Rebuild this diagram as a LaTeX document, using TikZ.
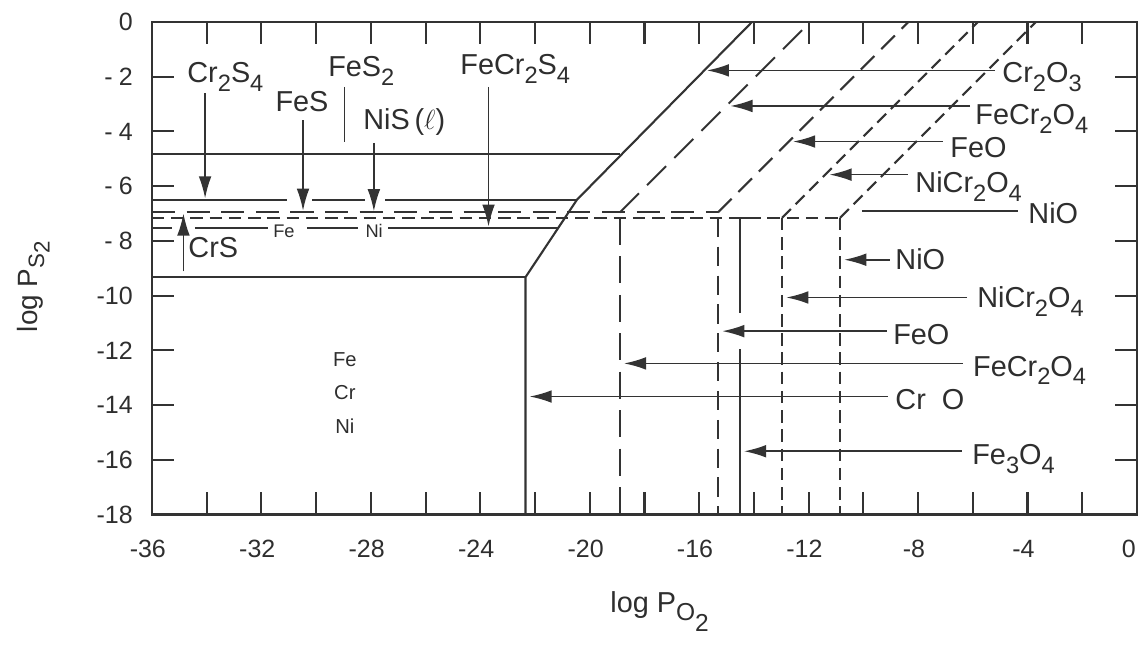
\documentclass[tikz,border=0pt]{standalone}
\usepackage{fontspec}
\setmainfont{Liberation Sans}
\usepackage{graphicx}
\usetikzlibrary{arrows.meta}
\newcommand{\chsub}[1]{\raisebox{-0.3em}{\scalebox{0.82}{#1}}}
\begin{document}
\begin{tikzpicture}[x=0.5cm,y=0.5cm,
  ink/.style={draw=black!80},
  frame/.style={ink, line width=1.5pt},
  bd/.style={ink, line width=1.1pt},
  arr/.style={ink, line width=0.85pt, -{Latex[length=11.5pt,width=6.6pt]}},
  bar/.style={ink, line width=0.85pt},
  ldash/.style={bd, dash pattern=on 14pt off 6pt},
  hdash/.style={bd, dash pattern=on 12pt off 6pt},
  mdash/.style={bd, dash pattern=on 10pt off 5pt},
  sdash/.style={bd, dash pattern=on 6.5pt off 3.5pt},
  lab/.style={inner sep=0pt, anchor=base west, text=black!82, font=\fontsize{15pt}{18pt}\selectfont},
  ticklab/.style={inner sep=0pt, text=black!82, font=\fontsize{13pt}{15pt}\selectfont},
  smalllab/.style={inner sep=0pt, text=black!82, font=\fontsize{10.5pt}{12pt}\selectfont},
  tinylab/.style={inner sep=0pt, anchor=base west, text=black!82, font=\fontsize{9.5pt}{11pt}\selectfont},
]
\useasboundingbox (-41.556,-22.81) rectangle (0.33,0.803);

% frame and ticks
\draw[frame] (-36,-18) rectangle (0,0);
\foreach \x in {-34,-32,...,-2} {
  \draw[bd] (\x,0) -- (\x,-0.82);
  \draw[bd] (\x,-18) -- (\x,-17.18);
}
\foreach \y in {-2,-4,...,-16} {
  \draw[bd] (-36,\y) -- (-35.18,\y);
  \draw[bd] (0,\y) -- (-0.82,\y);
}

% y tick labels
\node[ticklab, anchor=east] (y0) at (-36.69,0) {0};
\node[ticklab, anchor=east] (y2) at (-36.69,-2) {-\hspace{0.25em}2};
\node[ticklab, anchor=east] (y4) at (-36.69,-4) {-\hspace{0.25em}4};
\node[ticklab, anchor=east] (y6) at (-36.69,-6) {-\hspace{0.25em}6};
\node[ticklab, anchor=east] (y8) at (-36.69,-8) {-\hspace{0.25em}8};
\node[ticklab, anchor=east] (y10) at (-36.69,-10) {-10};
\node[ticklab, anchor=east] (y12) at (-36.69,-12) {-12};
\node[ticklab, anchor=east] (y14) at (-36.69,-14) {-14};
\node[ticklab, anchor=east] (y16) at (-36.69,-16) {-16};
\node[ticklab, anchor=east] (y18) at (-36.69,-18) {-18};

% x tick labels
\node[ticklab] (x36) at (-36,-19.27) {\llap{-}36};
\node[ticklab] (x32) at (-32,-19.27) {\llap{-}32};
\node[ticklab] (x28) at (-28,-19.27) {\llap{-}28};
\node[ticklab] (x24) at (-24,-19.27) {\llap{-}24};
\node[ticklab] (x20) at (-20,-19.27) {\llap{-}20};
\node[ticklab] (x16) at (-16,-19.27) {\llap{-}16};
\node[ticklab] (x12) at (-12,-19.27) {\llap{-}12};
\node[ticklab] (x8) at (-8,-19.27) {\llap{-}8};
\node[ticklab] (x4) at (-4,-19.27) {\llap{-}4};
\node[ticklab] (x0) at (-0.3,-19.27) {0};

% axis titles
\node[lab] (xtitle) at (-19.26,-21.57) {log P\raisebox{-0.3em}{\scalebox{0.85}{O\raisebox{-0.45em}{2}}}};
\node[lab, rotate=90, font=\fontsize{14.5pt}{17pt}\selectfont] (ytitle) at (-40.2,-11.35) {log P\raisebox{-0.25em}{\scalebox{0.8}{S\raisebox{-0.25em}{2}}}};

% solid boundaries
\draw[bd] (-14.07,0) -- (-20.47,-6.5) -- (-22.35,-9.33) -- (-22.35,-18);
\draw[bd] (-36,-4.82) -- (-18.89,-4.82);
\draw[bd] (-36,-6.5) -- (-31.07,-6.5) (-30.15,-6.5) -- (-28.22,-6.5) (-27.48,-6.5) -- (-20.47,-6.5);
\draw[bd] (-36,-9.33) -- (-22.35,-9.33);
\draw[bd] (-36,-7.52) -- (-35.27,-7.52) (-34.43,-7.52) -- (-31.76,-7.52)
          (-30.33,-7.52) -- (-28.47,-7.52) (-27.37,-7.52) -- (-21.14,-7.52);
\draw[bd] (-14.1,-7.16) -- (-14.51,-7.16) -- (-14.51,-10.62);
\draw[bd] (-14.51,-11.97) -- (-14.51,-18);

% dashed boundaries
\draw[hdash] (-36,-6.96) -- (-15.31,-6.96);
\draw[sdash] (-36,-7.16) -- (-10.85,-7.16);
\draw[ldash] (-18.9,-6.96) -- (-11.94,0);
\draw[ldash] (-18.9,-7.16) -- (-18.9,-18);
\draw[mdash] (-15.31,-6.96) -- (-8.35,0);
\draw[mdash] (-15.31,-7.16) -- (-15.31,-18);
\draw[sdash] (-12.97,-7.16) -- (-5.81,0);
\draw[sdash] (-12.97,-7.16) -- (-12.97,-18);
\draw[sdash] (-10.85,-7.16) -- (-3.69,0);
\draw[sdash] (-10.85,-7.16) -- (-10.85,-18);

% sulfide labels and arrows
\node[lab] (crs4) at (-34.72,-2.23) {Cr\chsub{2}S\chsub{4}};
\node[lab] (fes) at (-31.5,-3.28) {FeS};
\node[lab] (fes2) at (-29.57,-2.0) {FeS\chsub{2}};
\node[lab] (nis) at (-28.29,-3.94) {NiS\,($\ell$)};
\node[lab] (fecrs) at (-24.74,-1.93) {FeCr\chsub{2}S\chsub{4}};
\node[lab] (crs) at (-34.68,-8.61) {CrS};
\draw[arr] (-34.06,-2.6) -- (-34.06,-6.45);
\draw[arr] (-30.48,-3.6) -- (-30.48,-6.9);
\draw[bar] (-28.97,-2.37) -- (-28.97,-4.38);
\draw[arr] (-27.89,-4.42) -- (-27.89,-6.92);
\draw[arr] (-23.7,-2.37) -- (-23.7,-7.48);
\draw[arr] (-34.85,-9.12) -- (-34.85,-7.0);

% inline labels
\node[tinylab] (fein) at (-31.58,-7.88) {Fe};
\node[tinylab] (niin) at (-28.21,-7.88) {Ni};
\node[smalllab] (fe) at (-28.95,-12.34) {Fe};
\node[smalllab] (cr) at (-28.95,-13.54) {Cr};
\node[smalllab] (ni) at (-28.95,-14.78) {Ni};

% oxide labels and arrows
\node[lab] (cr2o3) at (-4.93,-2.23) {Cr\chsub{2}O\chsub{3}};
\node[lab] (fecro1) at (-5.92,-3.76) {FeCr\chsub{2}O\chsub{4}};
\node[lab] (feo1) at (-6.83,-4.97) {FeO};
\node[lab] (nicro1) at (-8.11,-6.25) {NiCr\chsub{2}O\chsub{4}};
\node[lab] (nio1) at (-3.98,-7.35) {NiO};
\node[lab] (nio2) at (-8.84,-9.05) {NiO};
\node[lab] (nicro2) at (-5.85,-10.45) {NiCr\chsub{2}O\chsub{4}};
\node[lab] (feo2) at (-8.92,-11.79) {FeO};
\node[lab] (fecro2) at (-6.0,-12.95) {FeCr\chsub{2}O\chsub{4}};
\node[lab] (cro) at (-8.84,-14.16) {Cr\ \ O};
\node[lab] (fe3o4) at (-6.03,-16.17) {Fe\chsub{3}O\chsub{4}};

\draw[arr] (-5.2,-1.77) -- (-15.72,-1.77);
\draw[arr] (-6.1,-3.07) -- (-14.86,-3.07);
\draw[arr] (-7.09,-4.37) -- (-12.57,-4.37);
\draw[arr] (-8.37,-5.58) -- (-11.24,-5.58);
\draw[bar] (-10.05,-6.9) -- (-4.35,-6.9);
\draw[arr] (-9.03,-8.69) -- (-10.7,-8.69);
\draw[arr] (-6.21,-10.07) -- (-12.82,-10.07);
\draw[arr] (-9.14,-11.3) -- (-15.16,-11.3);
\draw[arr] (-6.36,-12.48) -- (-18.75,-12.48);
\draw[arr] (-9.1,-13.69) -- (-22.2,-13.69);
\draw[arr] (-6.4,-15.69) -- (-14.36,-15.69);
\end{tikzpicture}
\end{document}
